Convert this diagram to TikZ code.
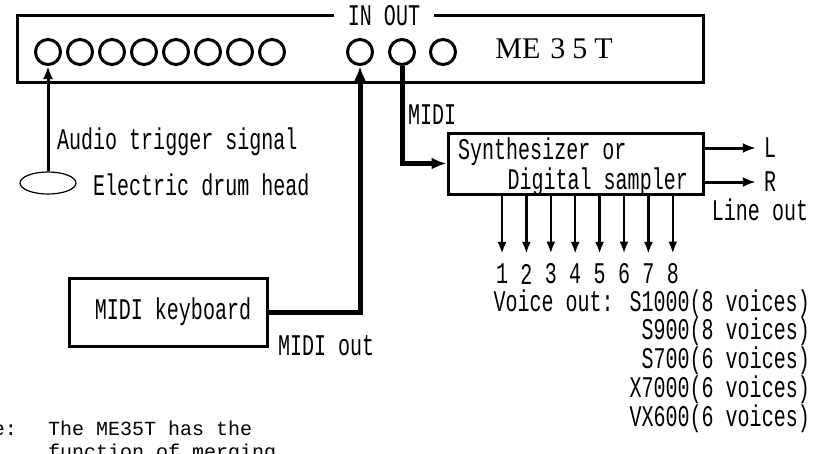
\documentclass[tikz,border=0pt]{standalone}
\usepackage{fontspec}
\setmainfont{Liberation Serif}
\newfontfamily\typefont[FakeStretch=0.667]{Liberation Mono}
\newfontfamily\notefont{Liberation Mono}
\usetikzlibrary{arrows.meta,shapes.geometric}

\tikzstyle{unit} = [draw, line width=3pt, inner sep=0pt]
\tikzstyle{jack} = [circle, draw, line width=3pt, minimum size=25pt, inner sep=0pt]
\tikzstyle{lbl} = [font=\fontsize{30}{32}\typefont, inner sep=0pt]
\tikzstyle{digit} = [font=\fontsize{30}{32}\typefont, inner sep=0pt]
\tikzstyle{note} = [font=\fontsize{20}{23}\notefont, inner sep=0pt]
\tikzstyle{midi} = [line width=5pt, -{Latex[length=15pt,width=12pt]}]
\tikzstyle{sig} = [line width=3pt, -{Latex[length=13pt,width=10pt]}]
\tikzstyle{voice} = [line width=2.5pt, -{Latex[length=12pt,width=9pt]}]

\begin{document}
\begin{tikzpicture}[x=1pt, y=-1pt]
\useasboundingbox (0,0) rectangle (825,453);
\clip (0,0) rectangle (825,453);

% ME35T unit
\node[unit, minimum width=686pt, minimum height=67pt] (me) at (360,48.5) {};
\node[lbl, fill=white, inner xsep=14pt, inner ysep=2pt] (inout) at (384,16) {IN OUT};
\foreach \i in {1,...,8}
    \node[jack] (j\i) at ({48+32*(\i-1)},52) {};
\node[jack] (in) at (360,52) {};
\node[jack] (out) at (402,52) {};
\node[jack] (thru) at (443,52) {};
\node[font=\fontsize{30}{32}\selectfont, inner sep=0pt] (name) at (554,49)
    {ME\hspace{10pt}3\hspace{7pt}5\hspace{7pt}T};

% drum head
\node[ellipse, draw, line width=1.2pt, minimum width=56pt, minimum height=22pt, inner sep=0pt] (drum) at (48,183) {};
\draw[sig] (drum.north) -- (j1.south);
\node[lbl, anchor=west] (trig) at (57,142) {Audio trigger signal};
\node[lbl, anchor=west] (head) at (93,185) {Electric drum head};

% keyboard
\node[unit, lbl, minimum width=198pt, minimum height=68pt] (kbd) at (168,312) {\hspace{10pt}MIDI keyboard};
\node[lbl, anchor=west] (kout) at (278,346) {MIDI out};
\draw[midi] (kbd.east) -| (in.south);

% synthesizer
\node[unit, minimum width=255pt, minimum height=61pt] (synth) at (575.5,163.5) {};
\node[lbl, anchor=west] (syn1) at (458,152) {Synthesizer or};
\node[lbl, anchor=east] (syn2) at (688,182) {Digital sampler};
\draw[midi] (out.south) |- (synth.west);
\node[lbl, anchor=west] (midi) at (408,115) {MIDI};

% line out
\node[lbl] (L) at (770,148) {L};
\node[lbl] (R) at (770,182) {R};
\draw[sig, shorten >=8pt] (synth.east |- L) -- (L.west);
\draw[sig, shorten >=8pt] (synth.east |- R) -- (R.west);
\node[lbl] (lineout) at (760,210) {Line out};

% voice out
\foreach \i in {1,...,8} {
    \node[digit] (v\i) at ({502+24.4*(\i-1)},274) {\i};
    \draw[voice, shorten >=10pt] (synth.south -| v\i) -- (v\i.north);
}
\node[lbl, anchor=east] (s1000) at (810,304) {Voice out: S1000(8 voices)};
\node[lbl, anchor=east] (s900) at (810,332) {S900(8 voices)};
\node[lbl, anchor=east] (s700) at (810,361) {S700(6 voices)};
\node[lbl, anchor=east] (x7000) at (810,390) {X7000(6 voices)};
\node[lbl, anchor=east] (vx600) at (810,419) {VX600(6 voices)};

% note
\node[note, anchor=base east] (notehead) at (17,435) {Note:};
\node[note, anchor=base west] (note1) at (48,435) {The ME35T has the};
\node[note, anchor=base west] (note2) at (48,458) {function of merging};
\end{tikzpicture}
\end{document}
